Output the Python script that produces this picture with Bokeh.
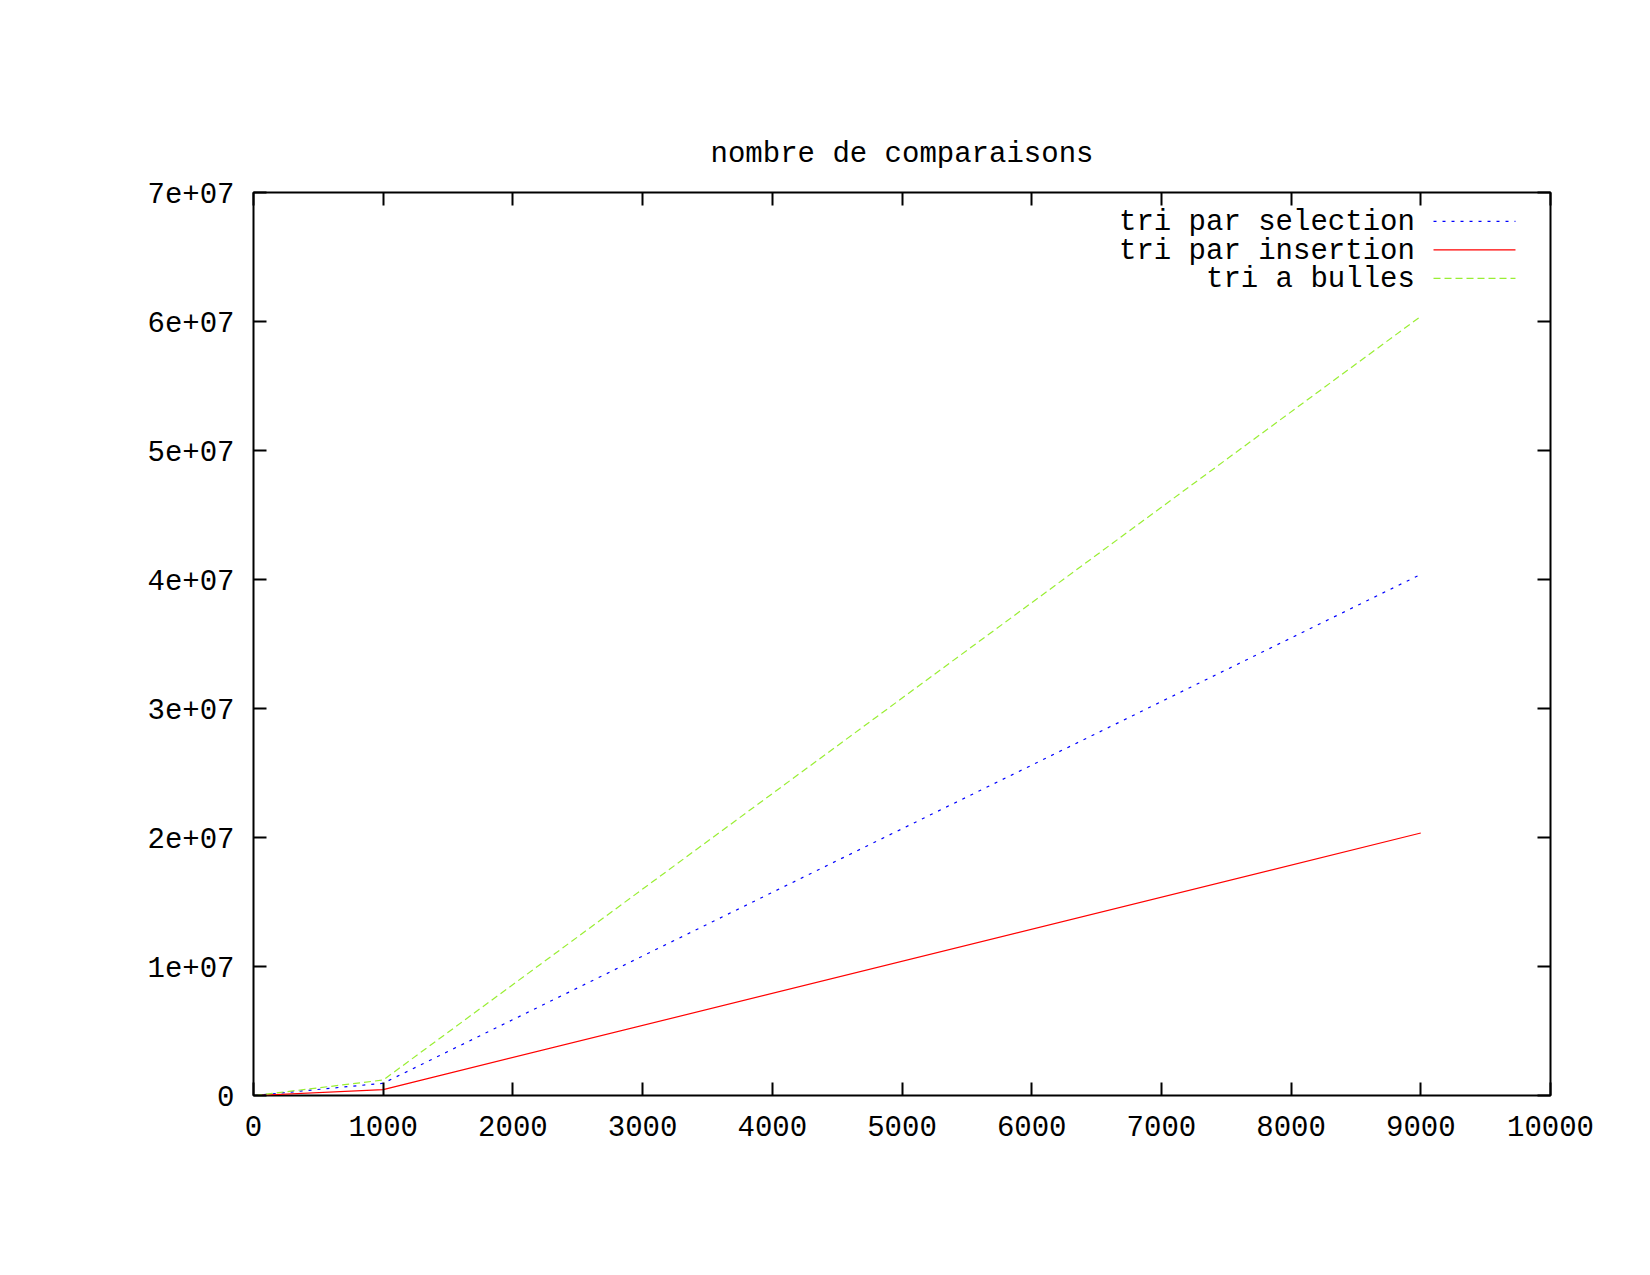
from bokeh.plotting import figure
from bokeh.models import LinearAxis, FixedTicker, Range1d, Label, CustomJSTickFormatter
from bokeh.embed import file_html
from bokeh.resources import INLINE

# ---- data ----
taille = [10, 1000, 9000]
tri_selection = [45, 950000, 40400000]
tri_insertion = [25, 460000, 20350000]
tri_bulles = [90, 1200000, 60400000]

series_labels = ["tri par selection", "tri par insertion", "tri a bulles"]
x_ticks = [0, 1000, 2000, 3000, 4000, 5000, 6000, 7000, 8000, 9000, 10000]
y_ticks = [0, 10000000, 20000000, 30000000, 40000000, 50000000, 60000000, 70000000]
y_tick_labels = ["0", "1e+07", "2e+07", "3e+07", "4e+07", "5e+07", "6e+07", "7e+07"]
title_text = "nombre de comparaisons"

FONT = "Liberation Mono"
FS = "29px"

p = figure(width=1634, height=1259, output_backend="svg", toolbar_location=None,
           x_range=Range1d(0, 10000), y_range=Range1d(0, 70000000),
           min_border_left=253, min_border_right=84, min_border_top=192, min_border_bottom=164,
           title=title_text)
p.title.align = "center"
p.title.text_font = FONT
p.title.text_font_size = FS
p.title.text_font_style = "normal"
p.title.text_color = "black"
p.title.standoff = 44
p.grid.visible = False
p.outline_line_color = "black"
p.outline_line_width = 2
p.outline_line_alpha = 1

def style_axis(ax, labels=True):
    ax.axis_line_color = None
    ax.major_tick_in = 13
    ax.major_tick_out = 0
    ax.major_tick_line_width = 2
    ax.major_tick_line_color = "black"
    ax.minor_tick_line_color = None
    ax.major_label_text_font = FONT
    ax.major_label_text_font_size = FS
    ax.major_label_text_color = "black"
    if not labels:
        ax.formatter = CustomJSTickFormatter(code="return ''")

style_axis(p.xaxis[0])
p.xaxis[0].ticker = FixedTicker(ticks=x_ticks)
p.xaxis[0].major_label_standoff = 20
style_axis(p.yaxis[0])
p.yaxis[0].ticker = FixedTicker(ticks=y_ticks)
p.yaxis[0].major_label_overrides = {t: l for t, l in zip(y_ticks, y_tick_labels)}
p.yaxis[0].major_label_standoff = 19

top = LinearAxis(ticker=FixedTicker(ticks=x_ticks))
style_axis(top, labels=False)
top.major_label_standoff = 0
p.add_layout(top, "above")
right = LinearAxis(ticker=FixedTicker(ticks=y_ticks))
style_axis(right, labels=False)
right.major_label_standoff = 0
p.add_layout(right, "right")

styles = [
    dict(color="#0000ff", dash="3 6"),
    dict(color="#ff0000", dash="solid"),
    dict(color="#99ee33", dash="7 4"),
]
series = [tri_selection, tri_insertion, tri_bulles]
for ys, st in zip(series, styles):
    p.line(taille, ys, line_color=st["color"], line_width=1.2, line_dash=st["dash"])

# ---- legend (gnuplot style: label then sample) ----
leg_text_x = 8954
leg_x0, leg_x1 = 9098, 9730
leg_rows = [67640000, 65430000, 63230000]
for lab, st, yy in zip(series_labels, styles, leg_rows):
    p.add_layout(Label(x=leg_text_x, y=yy, text=lab, text_align="right",
                       text_baseline="middle", text_font=FONT, text_font_size=FS,
                       text_color="black"))
    p.line([leg_x0, leg_x1], [yy + 120000, yy + 120000], line_color=st["color"],
           line_width=1.2, line_dash=st["dash"])

open("out.html", "w").write(file_html(p, INLINE))
